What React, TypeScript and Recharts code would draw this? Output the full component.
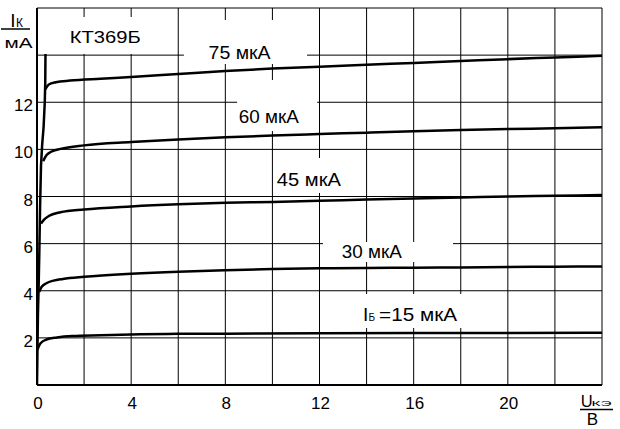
import React from 'react';
import { LineChart, Line, XAxis, YAxis, CartesianGrid, ReferenceArea, ReferenceDot } from 'recharts';

const FONT = '"Liberation Sans", Arial, Helvetica, sans-serif';

// U_КЭ (V) and I_К (mA) readings for each base current
const u75 = [0.35, 0.5, 0.8, 1.4, 2.7, 4, 6, 8, 10, 12, 14, 16, 18, 20, 22, 24];
const i75 = [12.55, 12.75, 12.85, 12.92, 13.0, 13.07, 13.2, 13.33, 13.43, 13.51, 13.59, 13.67, 13.75, 13.83, 13.9, 13.97];

const u60 = [0.26, 0.4, 0.6, 1, 2, 4, 6, 8, 10, 12, 14, 16, 18, 20, 22, 24];
const i60 = [9.5, 9.75, 9.9, 10.02, 10.17, 10.31, 10.42, 10.51, 10.59, 10.65, 10.71, 10.77, 10.82, 10.86, 10.9, 10.94];

const u45 = [0.17, 0.3, 0.5, 1, 2, 4, 6, 8, 10, 12, 14, 16, 18, 20, 22, 24];
const i45 = [6.85, 7.02, 7.17, 7.33, 7.45, 7.58, 7.67, 7.73, 7.77, 7.82, 7.87, 7.92, 7.96, 8.0, 8.03, 8.06];

const u30 = [0.09, 0.2, 0.4, 0.7, 1.1, 2, 4, 6, 8, 10, 12, 14, 16, 18, 20, 22, 24];
const i30 = [3.95, 4.17, 4.32, 4.43, 4.5, 4.59, 4.72, 4.81, 4.87, 4.92, 4.95, 4.97, 4.98, 4.99, 5.01, 5.02, 5.03];

const u15 = [0.02, 0.15, 0.4, 0.85, 1.5, 2.7, 4.4, 6, 8, 12, 16, 20, 24];
const i15 = [1.5, 1.77, 1.93, 2.02, 2.08, 2.11, 2.15, 2.17, 2.18, 2.2, 2.21, 2.21, 2.22];

const uSat = [0, 0.02, 0.04, 0.07, 0.1, 0.13, 0.17, 0.22, 0.28, 0.33, 0.35, 0.36];
const iSat = [0, 1.5, 3, 4.2, 5.7, 7.5, 9.3, 10.2, 10.95, 12.0, 12.8, 14.05];

const xTicks = [0, 2, 4, 6, 8, 10, 12, 14, 16, 18, 20, 22, 24];
const xTickLabels = [0, 4, 8, 12, 16, 20];
const yTicks = [0, 2, 4, 6, 8, 10, 12, 14, 16];
const yTickLabels = [2, 4, 6, 8, 10, 12];

const title = 'КТ369Б';
const curveLabels = ['75 мкА', '60 мкА', '45 мкА', '30 мкА', '=15 мкА'];

// annotation layout (white label backgrounds and label anchors, in data units)
const boxes = [
  { u1: 0.55, u2: 5.23, i1: 14.05, i2: 15.62 },
  { u1: 6.24, u2: 11.47, i1: 13.62, i2: 15.49 },
  { u1: 8.5, u2: 11.9, i1: 10.78, i2: 12.94 },
  { u1: 10.15, u2: 13.08, i1: 8.15, i2: 9.63 },
  { u1: 12.15, u2: 17.67, i1: 5.22, i2: 6.07 },
  { u1: 12.45, u2: 18.4, i1: 2.42, i2: 3.86 },
];

const toPoints = (u: number[], i: number[]) => u.map((v, k) => ({ u: v, i: i[k] }));

const d75 = toPoints(u75, i75);
const d60 = toPoints(u60, i60);
const d45 = toPoints(u45, i45);
const d30 = toPoints(u30, i30);
const d15 = toPoints(u15, i15);
const dSat = toPoints(uSat, iSat);

const txt = { fontFamily: FONT, fill: '#000' };

const center = (p: any) => {
  const vb = (p && p.viewBox) || {};
  return [(vb.x ?? 0) + (vb.width ?? 0) / 2, (vb.y ?? 0) + (vb.height ?? 0) / 2];
};

const XTick = (props: any) => {
  const { x, y, payload } = props;
  if (!xTickLabels.includes(payload.value)) return <g />;
  return (
    <text x={x + 1} y={y + 24} textAnchor="middle" fontSize={17} {...txt}>
      {payload.value}
    </text>
  );
};

const YTick = (props: any) => {
  const { x, y, payload } = props;
  if (!yTickLabels.includes(payload.value)) return <g />;
  return (
    <text x={x - 4} y={y + 9} textAnchor="end" fontSize={17} {...txt}>
      {payload.value}
    </text>
  );
};

const yAxisLabel = (p: any) => {
  const [x, y] = center(p);
  return (
    <g>
      <text x={x - 26.8} y={y + 19} fontSize={19} {...txt}>I</text>
      <text x={x - 21} y={y + 19} fontSize={12} {...txt}>К</text>
      <line x1={x - 36} x2={x - 7} y1={y + 21} y2={y + 21} stroke="#000" strokeWidth={1.5} />
      <text x={x - 32.5} y={y + 40} fontSize={15} textLength={28} lengthAdjust="spacingAndGlyphs" {...txt}>мА</text>
    </g>
  );
};

const xAxisLabel = (p: any) => {
  const [x, y] = center(p);
  return (
    <g>
      <text x={x - 21.3} y={y + 21.7} fontSize={16.5} {...txt}>U</text>
      <text x={x - 10.5} y={y + 21} fontSize={8} textLength={20} lengthAdjust="spacingAndGlyphs" {...txt}>КЭ</text>
      <line x1={x - 22} x2={x + 11} y1={y + 24.5} y2={y + 24.5} stroke="#000" strokeWidth={1.5} />
      <text x={x - 15.2} y={y + 40} fontSize={17} {...txt}>В</text>
    </g>
  );
};

const simpleLabel = (text: string, size: number, len: number) => (p: any) => {
  const [x, y] = center(p);
  return (
    <text x={x} y={y} fontSize={size} textLength={len} lengthAdjust="spacingAndGlyphs" {...txt}>
      {text}
    </text>
  );
};

const ibLabel = (p: any) => {
  const [x, y] = center(p);
  return (
    <g>
      <text x={x} y={y} fontSize={19} {...txt}>I</text>
      <text x={x + 5.5} y={y} fontSize={10} {...txt}>Б</text>
      <text x={x + 16} y={y} fontSize={19} textLength={78} lengthAdjust="spacingAndGlyphs" {...txt}>{curveLabels[4]}</text>
    </g>
  );
};

const series = [d75, d60, d45, d30, d15];

export default function App() {
  return (
    <div style={{ position: 'absolute', left: 0, top: 0, width: 620, height: 429, background: '#fff' }}>
      <LineChart width={620} height={429} margin={{ top: 8, right: 18, bottom: 0, left: 0 }}>
        <CartesianGrid stroke="#000" strokeWidth={1} />
        <XAxis
          type="number"
          dataKey="u"
          domain={[0, 24]}
          ticks={xTicks}
          interval={0}
          allowDataOverflow
          height={44}
          tickLine={false}
          tickSize={0}
          tickMargin={0}
          axisLine={{ stroke: '#000', strokeWidth: 2 }}
          tick={XTick}
        />
        <YAxis
          type="number"
          domain={[0, 16]}
          ticks={yTicks}
          interval={0}
          allowDataOverflow
          width={37}
          tickLine={false}
          tickSize={0}
          tickMargin={0}
          axisLine={{ stroke: '#000', strokeWidth: 2 }}
          tick={YTick}
        />
        {boxes.map((b, k) => (
          <ReferenceArea
            key={'box' + k}
            x1={b.u1}
            x2={b.u2}
            y1={b.i1}
            y2={b.i2}
            fill="#fff"
            fillOpacity={1}
            stroke="none"
            ifOverflow="visible"
          />
        ))}
        <Line
          data={dSat}
          dataKey="i"
          type="linear"
          stroke="#000"
          strokeWidth={2.5}
          dot={false}
          activeDot={false}
          isAnimationActive={false}
        />
        {series.map((d, k) => (
          <Line
            key={'s' + k}
            data={d}
            dataKey="i"
            type="monotone"
            stroke="#000"
            strokeWidth={2.5}
            dot={false}
            activeDot={false}
            isAnimationActive={false}
          />
        ))}
        <ReferenceDot x={0} y={16} r={0} fill="none" stroke="none" ifOverflow="visible" label={yAxisLabel} />
        <ReferenceDot x={24} y={0} r={0} fill="none" stroke="none" ifOverflow="visible" label={xAxisLabel} />
        <ReferenceDot x={1.39} y={14.5} r={0} fill="none" stroke="none" ifOverflow="visible" label={simpleLabel(title, 17, 71)} />
        <ReferenceDot x={7.29} y={13.84} r={0} fill="none" stroke="none" ifOverflow="visible" label={simpleLabel(curveLabels[0], 18.5, 62)} />
        <ReferenceDot x={8.57} y={11.12} r={0} fill="none" stroke="none" ifOverflow="visible" label={simpleLabel(curveLabels[1], 18, 60)} />
        <ReferenceDot x={10.19} y={8.45} r={0} fill="none" stroke="none" ifOverflow="visible" label={simpleLabel(curveLabels[2], 18, 64)} />
        <ReferenceDot x={12.95} y={5.39} r={0} fill="none" stroke="none" ifOverflow="visible" label={simpleLabel(curveLabels[3], 18, 60)} />
        <ReferenceDot x={13.85} y={2.72} r={0} fill="none" stroke="none" ifOverflow="visible" label={ibLabel} />
      </LineChart>
    </div>
  );
}
